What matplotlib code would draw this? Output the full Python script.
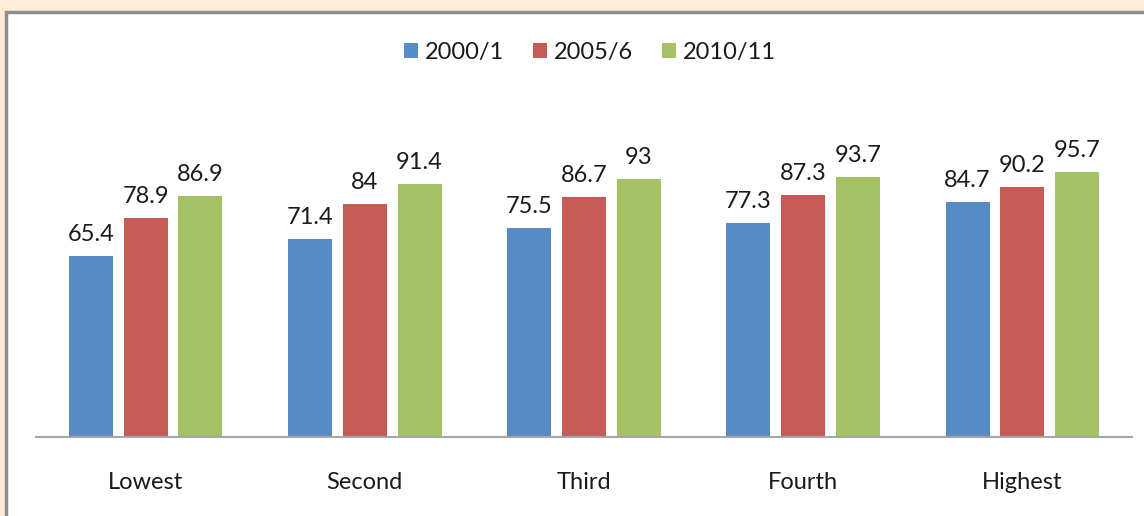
import matplotlib
matplotlib.use("Agg")
import matplotlib.pyplot as plt
from matplotlib.patches import Rectangle
import numpy as np

categories = ["Lowest", "Second", "Third", "Fourth", "Highest"]
series_names = ["2000/1", "2005/6", "2010/11"]
v2000 = [65.4, 71.4, 75.5, 77.3, 84.7]
v2005 = [78.9, 84, 86.7, 87.3, 90.2]
v2010 = [86.9, 91.4, 93, 93.7, 95.7]
colors = ["#568bc4", "#c65a56", "#a4c263"]

W, H = 1144, 516
fig = plt.figure(figsize=(W / 100, H / 100), dpi=100)
fig.patch.set_facecolor("#ffebd6")
# white chart panel with grey border
fig.patches.append(Rectangle((6 / W, -0.1), 1.2, (H - 12) / H + 0.1,
                             transform=fig.transFigure, facecolor="white",
                             edgecolor="#8e8e8e", linewidth=2.5, zorder=-10))

left, right = 36 / W, 1132 / W
bottom = (H - 437) / H
top = (H - 160) / H
ax = fig.add_axes([left, bottom, right - left, top - bottom])
ax.set_facecolor("none")
ax.set_zorder(5)

x = np.arange(len(categories))
bw = 0.2
off = 0.25
font = ["Lato", "DejaVu Sans"]
txtc = "#1a1a1a"
for i, (vals, name) in enumerate(zip([v2000, v2005, v2010], series_names)):
    pos = x + (i - 1) * off
    ax.bar(pos, vals, width=bw, color=colors[i], label=name, zorder=2)
    for p, v in zip(pos, vals):
        ax.annotate(f"{v:g}", (p, v), xytext=(0, 8), textcoords="offset points",
                    ha="center", va="bottom", fontsize=17, color=txtc,
                    family=font)

ax.set_xlim(-0.5, len(categories) - 0.5)
ax.set_ylim(0, 100)
ax.set_yticks([])
ax.set_xticks(x)
ax.set_xticklabels(categories, fontsize=17, color=txtc, family=font)
ax.tick_params(axis="x", length=0, pad=25)
for s in ["top", "right", "left"]:
    ax.spines[s].set_visible(False)
ax.spines["bottom"].set_color("#a6a6a6")
ax.spines["bottom"].set_linewidth(1.5)

leg = fig.legend(loc="center", bbox_to_anchor=(590 / W, (H - 52) / H), ncol=3,
                 frameon=False, prop={"family": font, "size": 17},
                 handlelength=0.6, handleheight=0.6, handletextpad=0.3,
                 columnspacing=1.2)
for t in leg.get_texts():
    t.set_color(txtc)

fig.savefig("out.png", dpi=100, facecolor=fig.get_facecolor())
